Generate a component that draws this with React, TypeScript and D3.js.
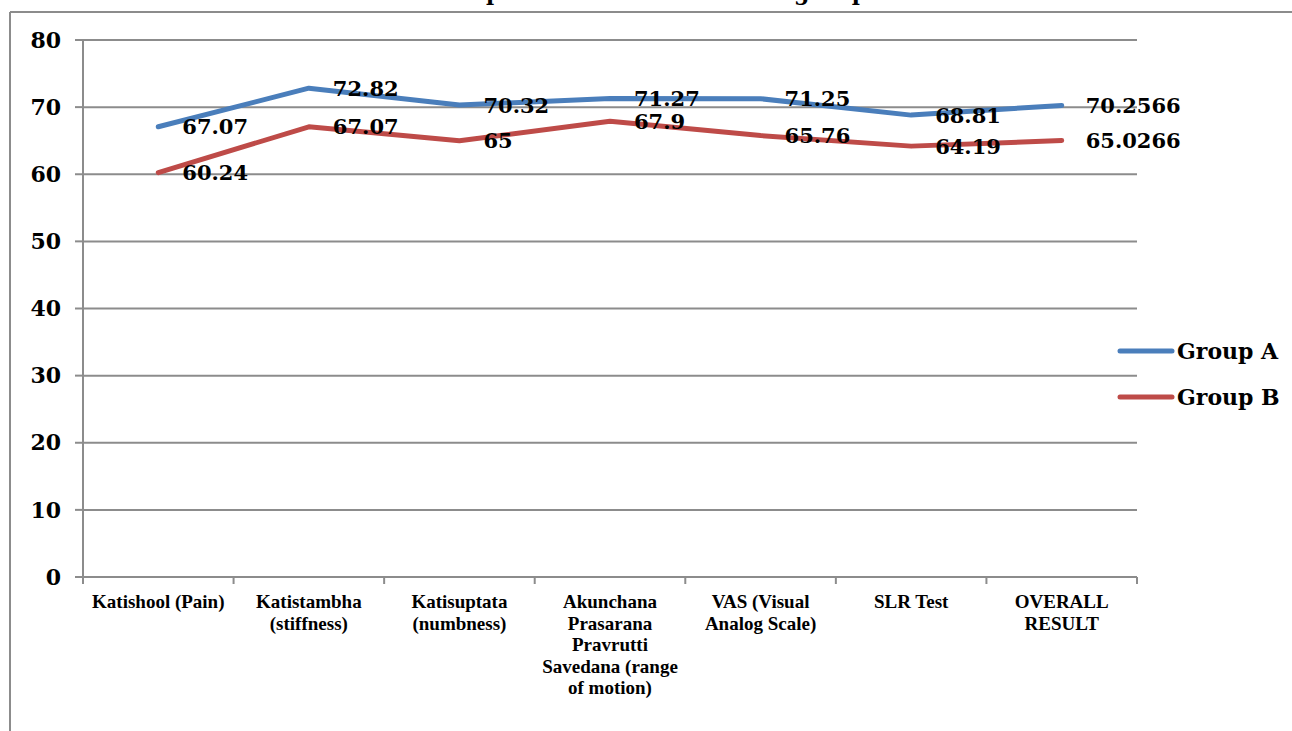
import React from "react";
import * as d3 from "d3";

const categories = [
  "Katishool (Pain)",
  "Katistambha\n(stiffness)",
  "Katisuptata\n(numbness)",
  "Akunchana\nPrasarana\nPravrutti\nSavedana (range\nof motion)",
  "VAS (Visual\nAnalog Scale)",
  "SLR Test",
  "OVERALL\nRESULT",
];
const groupA = [67.07, 72.82, 70.32, 71.27, 71.25, 68.81, 70.2566];
const groupB = [60.24, 67.07, 65, 67.9, 65.76, 64.19, 65.0266];
const yTicks = [0, 10, 20, 30, 40, 50, 60, 70, 80];

const series = [
  { name: "Group A", values: groupA, color: "#4A7EBB" },
  { name: "Group B", values: groupB, color: "#BE4B48" },
];

const W = 1292;
const H = 731;
const left = 83;
const right = 1137;
const top = 40;
const bottom = 577;
const serif = "'DejaVu Serif', serif";
const grid = "#8C8C8C";

export default function App() {
  const x = d3.scaleBand<number>().domain(d3.range(categories.length)).range([left, right]);
  const y = d3.scaleLinear().domain([0, 80]).range([bottom, top]);
  const cx = (i: number) => (x(i) as number) + x.bandwidth() / 2;
  const line = d3
    .line<number>()
    .x((_, i) => cx(i))
    .y((d) => y(d));

  const bounds = d3.range(categories.length + 1).map((i) => left + i * x.bandwidth());

  return (
    <svg
      width={W}
      height={H}
      style={{ position: "absolute", left: 0, top: 0, display: "block", background: "#fff" }}
    >
      {/* chart frame */}
      <line x1={10} x2={W} y1={12} y2={12} stroke={grid} strokeWidth={2} />
      <line x1={10} x2={10} y1={12} y2={H} stroke={grid} strokeWidth={2} />

      {/* title, mostly above the frame */}
      <text x={655} y={0} textAnchor="middle" fontFamily={serif} fontWeight="bold" fontSize={22}>
        Comparison of result in both groups
      </text>

      {/* gridlines and y axis */}
      {yTicks.map((t) => (
        <g key={t}>
          {t > 0 && <line x1={left} x2={right} y1={y(t)} y2={y(t)} stroke={grid} strokeWidth={2} />}
          <line x1={75} x2={left} y1={y(t)} y2={y(t)} stroke={grid} strokeWidth={2} />
          <text
            x={61}
            y={y(t)}
            dy="0.35em"
            textAnchor="end"
            fontFamily={serif}
            fontWeight="bold"
            fontSize={22}
          >
            {t}
          </text>
        </g>
      ))}
      <line x1={left} x2={left} y1={top} y2={bottom} stroke={grid} strokeWidth={2} />
      <line x1={left} x2={right} y1={bottom} y2={bottom} stroke={grid} strokeWidth={2} />
      {bounds.map((b, i) => (
        <line key={i} x1={b} x2={b} y1={bottom} y2={bottom + 7} stroke={grid} strokeWidth={2} />
      ))}

      {/* category labels */}
      {categories.map((c, i) => (
        <text
          key={i}
          x={cx(i)}
          y={608}
          textAnchor="middle"
          fontFamily="'Liberation Serif', serif"
          fontWeight="bold"
          fontSize={19}
        >
          {c.split("\n").map((ln, j) => (
            <tspan key={j} x={cx(i)} dy={j === 0 ? 0 : 21.5}>
              {ln}
            </tspan>
          ))}
        </text>
      ))}

      {/* series lines */}
      {series.map((s) => (
        <path
          key={s.name}
          d={line(s.values) || ""}
          fill="none"
          stroke={s.color}
          strokeWidth={5}
          strokeLinejoin="round"
          strokeLinecap="round"
        />
      ))}

      {/* value labels */}
      {series.map((s) =>
        s.values.map((v, i) => (
          <text
            key={s.name + i}
            x={cx(i) + 24}
            y={y(v)}
            dy="0.36em"
            fontFamily={serif}
            fontWeight="bold"
            fontSize={21}
            fill="#000"
          >
            {v}
          </text>
        ))
      )}

      {/* legend */}
      {series.map((s, i) => (
        <g key={s.name} transform={`translate(0, ${351 + i * 46})`}>
          <line x1={1120} x2={1172} y1={0} y2={0} stroke={s.color} strokeWidth={5} strokeLinecap="round" />
          <text x={1177} y={0} dy="0.35em" fontFamily={serif} fontWeight="bold" fontSize={22}>
            {s.name}
          </text>
        </g>
      ))}
    </svg>
  );
}
